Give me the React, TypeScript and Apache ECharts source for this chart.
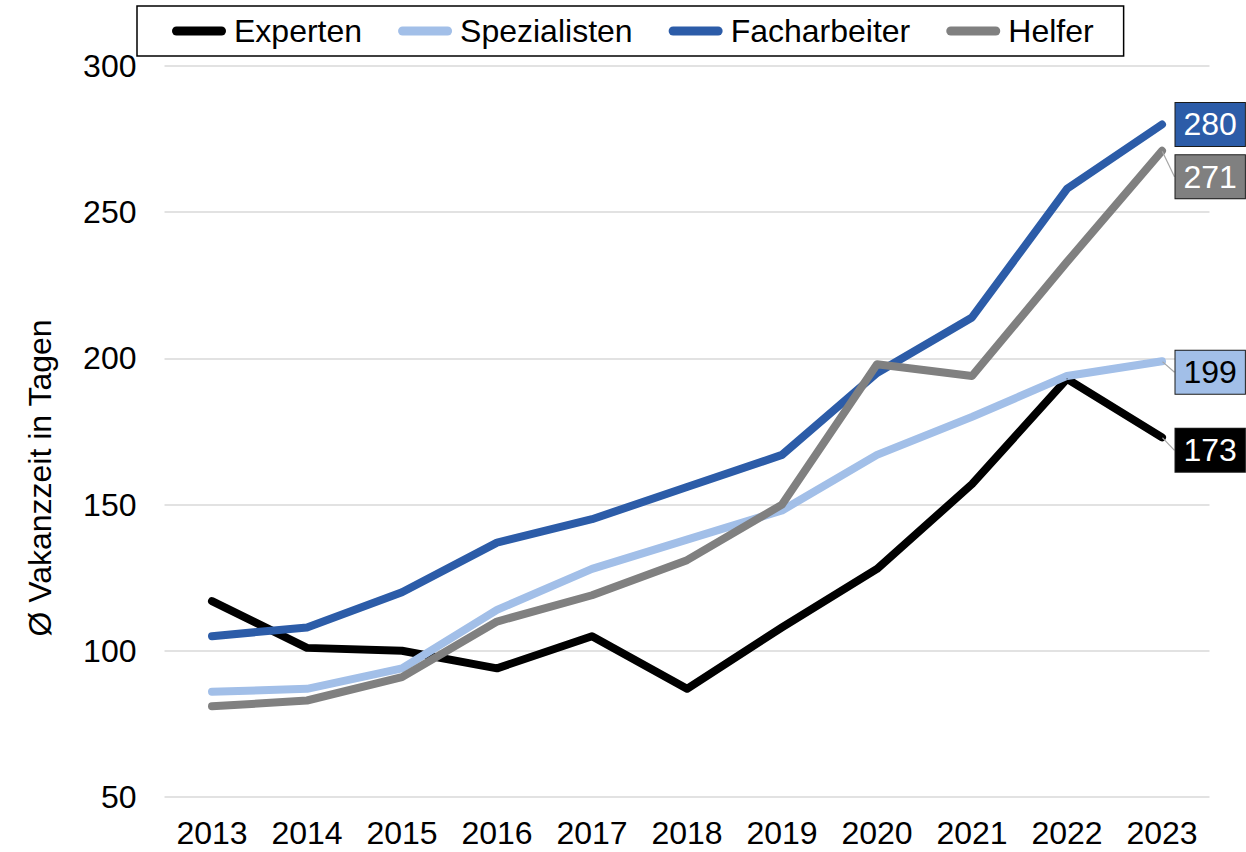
import React, { useEffect, useRef } from "react";
import * as echarts from "echarts";

const years = ["2013", "2014", "2015", "2016", "2017", "2018", "2019", "2020", "2021", "2022", "2023"];
const experten = [117, 101, 100, 94, 105, 87, 108, 128, 157, 193, 173];
const spezialisten = [86, 87, 94, 114, 128, 138, 148, 167, 180, 194, 199];
const facharbeiter = [105, 108, 120, 137, 145, 156, 167, 195, 214, 258, 280];
const helfer = [81, 83, 91, 110, 119, 131, 150, 198, 194, 233, 271];

const FONT = "Liberation Sans, Arial, sans-serif";
const FS = 32;
const capsule = "path://M5,0 H55 A5,5 0 0 1 55,10 H5 A5,5 0 0 1 5,0 Z";

function makeSeries(name: string, data: number[], color: string, textColor: string, dy: number, showLine: boolean) {
  const last = data.length - 1;
  return {
    name,
    type: "line",
    symbol: "circle",
    symbolSize: 1,
    showSymbol: true,
    smooth: false,
    lineStyle: { color, width: 8, cap: "round", join: "round" },
    itemStyle: { color },
    data: data.map((v, i) =>
      i === last
        ? {
            value: v,
            label: {
              show: true,
              position: "right",
              distance: 13,
              formatter: "{c}",
              color: textColor,
              fontSize: FS,
              fontFamily: FONT,
              backgroundColor: color,
              borderColor: "#1a1a1a",
              borderWidth: 1,
              padding: [6, 8, 5, 8],
            },
            labelLine: { show: showLine, minTurnAngle: 90, lineStyle: { color: "#a6a6a6", width: 1.2 } },
          }
        : v
    ),
    labelLayout: { dy },
  };
}

export default function App() {
  const ref = useRef<HTMLDivElement>(null);
  useEffect(() => {
    const chart = echarts.init(ref.current!, null, { renderer: "svg" });
    chart.setOption({
      animation: false,
      textStyle: { fontFamily: FONT },
      legend: {
        left: 137,
        top: 6,
        padding: [9, 30, 9, 35],
        itemGap: 36,
        itemWidth: 60,
        itemHeight: 9,
        icon: capsule,
        borderColor: "#000",
        borderWidth: 1.5,
        textStyle: { fontSize: FS, color: "#000", fontFamily: FONT },
        data: ["Experten", "Spezialisten", "Facharbeiter", "Helfer"],
      },
      grid: { left: 164.5, right: 36.5, top: 66, bottom: 55 },
      xAxis: {
        type: "category",
        data: years,
        boundaryGap: true,
        axisLine: { show: false },
        axisTick: { show: false },
        axisLabel: { color: "#000", fontSize: FS, fontFamily: FONT, margin: 20 },
      },
      yAxis: {
        type: "value",
        min: 50,
        max: 300,
        interval: 50,
        axisLine: { show: false },
        axisTick: { show: false },
        splitLine: { lineStyle: { color: "#d9d9d9", width: 1.5 } },
        axisLabel: { color: "#000", fontSize: FS, fontFamily: FONT, margin: 28 },
      },
      graphic: [
        {
          type: "text",
          x: 40,
          y: 478,
          rotation: Math.PI / 2,
          style: {
            text: "Ø Vakanzzeit in Tagen",
            fontSize: FS,
            fontFamily: FONT,
            fill: "#000",
            align: "center",
            verticalAlign: "middle",
          },
        },
      ],
      series: [
        makeSeries("Experten", experten, "#000000", "#ffffff", 13, true),
        makeSeries("Spezialisten", spezialisten, "#a2bfe8", "#000000", 11, true),
        makeSeries("Facharbeiter", facharbeiter, "#2c5ca8", "#ffffff", 0, false),
        makeSeries("Helfer", helfer, "#808080", "#ffffff", 26, true),
      ],
    });
    return () => chart.dispose();
  }, []);
  return <div ref={ref} style={{ position: "absolute", left: 0, top: 0, width: 1246, height: 852 }} />;
}
